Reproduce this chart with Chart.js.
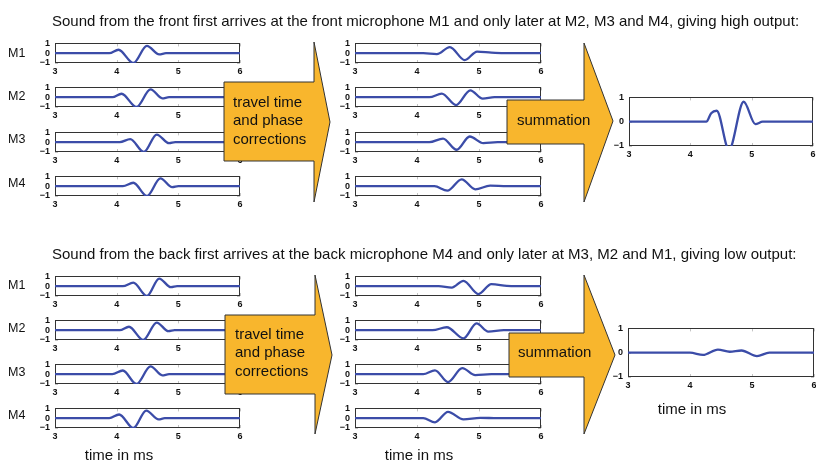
<!DOCTYPE html>
<html>
<head>
<meta charset="utf-8">
<script src="https://cdn.jsdelivr.net/npm/chart.js@4.4.1/dist/chart.umd.min.js"></script>
<style>
html, body { margin: 0; padding: 0; background: #fff; }
#fig { position: relative; width: 816px; height: 462px; overflow: hidden;
       font-family: "Liberation Sans", Arial, Helvetica, sans-serif; color: #111; }
canvas { position: absolute; }
svg { position: absolute; left: 0; top: 0; }
.txt { position: absolute; white-space: nowrap; line-height: 1; }
.title { font-size: 15px; }
.mic { font-size: 12.5px; }
.axlabel { font-size: 15px; transform: translateX(-50%); }
.arrowtxt { font-size: 15px; line-height: 18.5px; }
</style>
</head>
<body>
<div id="fig"></div>
<script>
// ---- data (time in ms, amplitude) ----
const xTicks = [3, 4, 5, 6];
const yTicks = [-1, 0, 1];
const micLabels = ['M1', 'M2', 'M3', 'M4'];

const titleFront = 'Sound from the front first arrives at the front microphone M1 and only later at M2, M3 and M4, giving high output:';
const titleBack = 'Sound from the back first arrives at the back microphone M4 and only later at M3, M2 and M1, giving low output:';

// front: raw microphone signals
const frontInM1 = [[3, 0], [3.88, 0], [4.03, 0.35], [4.27, -1], [4.49, 0.74], [4.69, -0.12], [4.8, 0], [6, 0]];
const frontInM2 = [[3, 0], [3.93, 0], [4.08, 0.35], [4.32, -1], [4.55, 0.8], [4.74, -0.12], [4.85, 0], [6, 0]];
const frontInM3 = [[3, 0], [4.05, 0], [4.22, 0.32], [4.44, -1], [4.65, 0.78], [4.85, -0.1], [4.95, 0], [6, 0]];
const frontInM4 = [[3, 0], [4.1, 0], [4.27, 0.35], [4.49, -1], [4.71, 0.8], [4.9, -0.1], [5.0, 0], [6, 0]];
// front: after travel time and phase corrections
const frontOutM1 = [[3, 0], [4.1, 0], [4.32, -0.1], [4.53, 0.62], [4.77, -0.7], [4.97, 0.17], [5.2, 0.05], [5.4, 0], [6, 0]];
const frontOutM2 = [[3, 0], [4.2, 0], [4.4, 0.36], [4.63, -0.8], [4.86, 0.7], [5.06, -0.15], [5.25, 0], [6, 0]];
const frontOutM3 = [[3, 0], [4.2, 0], [4.42, 0.37], [4.64, -0.77], [4.85, 0.58], [5.07, -0.1], [5.3, 0], [6, 0]];
const frontOutM4 = [[3, 0], [4.28, 0], [4.49, -0.45], [4.72, 0.7], [4.94, -0.32], [5.18, 0.06], [5.45, 0], [6, 0]];
const frontSum = [[3, 0], [4.26, 0], [4.34, 0.35], [4.43, 0.45], [4.63, -1.15], [4.87, 0.82], [5.06, -0.1], [5.18, 0], [6, 0]];

// back: raw microphone signals
const backInM1 = [[3, 0], [4.1, 0], [4.27, 0.36], [4.49, -1], [4.69, 0.78], [4.88, -0.1], [4.98, 0], [6, 0]];
const backInM2 = [[3, 0], [4.05, 0], [4.2, 0.35], [4.43, -1], [4.65, 0.78], [4.84, -0.1], [4.94, 0], [6, 0]];
const backInM3 = [[3, 0], [3.93, 0], [4.1, 0.38], [4.32, -1], [4.55, 0.8], [4.74, -0.12], [4.85, 0], [6, 0]];
const backInM4 = [[3, 0], [3.88, 0], [4.04, 0.38], [4.27, -1], [4.48, 0.78], [4.68, -0.12], [4.78, 0], [6, 0]];
// back: after travel time and phase corrections
const backOutM1 = [[3, 0], [4.35, 0], [4.56, -0.15], [4.75, 0.55], [4.99, -0.8], [5.2, 0.22], [5.45, 0.03], [5.6, 0], [6, 0]];
const backOutM2 = [[3, 0], [4.25, 0], [4.48, 0.3], [4.75, -0.83], [4.96, 0.7], [5.15, -0.14], [5.4, 0], [6, 0]];
const backOutM3 = [[3, 0], [4.1, 0], [4.29, 0.4], [4.5, -0.8], [4.73, 0.62], [4.94, -0.1], [5.2, 0], [6, 0]];
const backOutM4 = [[3, 0], [4.1, 0], [4.29, -0.42], [4.5, 0.65], [4.75, -0.12], [5.02, 0.04], [5.3, 0], [6, 0]];
const backSum = [[3, 0], [4.0, 0], [4.21, -0.09], [4.45, 0.13], [4.64, 0.04], [4.83, 0.09], [5.08, -0.14], [5.28, 0], [6, 0]];

// ---- layout ----
const fig = document.getElementById('fig');
const LINE = '#3b4ca8';
const PAD_L = 32, PAD_T = 6, PAD_R = 8, PAD_B = 16;

// box around plot + small inward ticks, like the matlab axes
const framePlugin = {
    id: 'frame',
    beforeDatasetsDraw(chart) {
        const { ctx, chartArea: a, scales } = chart;
        ctx.save();
        ctx.strokeStyle = '#c4c4c4';
        ctx.lineWidth = 1;
        ctx.beginPath();
        scales.x.ticks.forEach(t => {
            const px = Math.round(scales.x.getPixelForValue(t.value)) + 0.5;
            ctx.moveTo(px, a.top); ctx.lineTo(px, a.top + 3);
            ctx.moveTo(px, a.bottom); ctx.lineTo(px, a.bottom - 3);
        });
        scales.y.ticks.forEach(t => {
            const py = Math.round(scales.y.getPixelForValue(t.value)) + 0.5;
            ctx.moveTo(a.left, py); ctx.lineTo(a.left + 3, py);
            ctx.moveTo(a.right, py); ctx.lineTo(a.right - 3, py);
        });
        ctx.stroke();
        ctx.strokeStyle = '#333';
        ctx.strokeRect(Math.round(a.left) + 0.5, Math.round(a.top) + 0.5,
            Math.round(a.width) - 1, Math.round(a.height) - 1);
        ctx.restore();
    }
};

function makeChart(box, points) {
    const canvas = document.createElement('canvas');
    canvas.width = box.w + PAD_L + PAD_R;
    canvas.height = box.h + PAD_T + PAD_B;
    canvas.style.left = (box.x - PAD_L) + 'px';
    canvas.style.top = (box.y - PAD_T) + 'px';
    fig.appendChild(canvas);

    const tickFont = { family: '"Liberation Sans", Arial, sans-serif', size: 9, weight: 'bold' };
    new Chart(canvas, {
        type: 'line',
        data: {
            datasets: [{
                data: points.map(p => ({ x: p[0], y: p[1] })),
                borderColor: LINE,
                borderWidth: 2.3,
                pointRadius: 0,
                cubicInterpolationMode: 'monotone',
                fill: false
            }]
        },
        options: {
            responsive: false,
            animation: false,
            events: [],
            layout: { padding: { top: PAD_T, right: PAD_R, left: 0, bottom: 0 } },
            plugins: { legend: { display: false }, tooltip: { enabled: false } },
            scales: {
                x: {
                    type: 'linear', min: xTicks[0], max: xTicks[xTicks.length - 1],
                    afterBuildTicks: s => { s.ticks = xTicks.map(v => ({ value: v })); },
                    afterFit: s => { s.height = PAD_B; },
                    grid: { display: false, drawTicks: false },
                    border: { display: false },
                    ticks: { font: tickFont, color: '#111', padding: 3, maxRotation: 0, autoSkip: false }
                },
                y: {
                    type: 'linear', min: yTicks[0], max: yTicks[yTicks.length - 1],
                    afterBuildTicks: s => { s.ticks = yTicks.map(v => ({ value: v })); },
                    afterFit: s => { s.width = PAD_L; },
                    grid: { display: false, drawTicks: false },
                    border: { display: false },
                    ticks: {
                        font: tickFont, color: '#111', padding: 5, autoSkip: false,
                        callback: v => (v < 0 ? '\u2212' + Math.abs(v) : String(v))
                    }
                }
            }
        },
        plugins: [framePlugin]
    });
}

function addText(cls, text, left, top) {
    const d = document.createElement('div');
    d.className = 'txt ' + cls;
    d.style.left = left + 'px';
    d.style.top = top + 'px';
    d.innerHTML = text;
    fig.appendChild(d);
}

// rows of small plots
const topRows = [39, 83, 128, 172];
const botRows = [272, 316, 360, 404];
const topMicY = [47, 90, 133, 177];
const botMicY = [279, 322, 366, 409];

[frontInM1, frontInM2, frontInM3, frontInM4].forEach((s, i) => makeChart({ x: 55, y: topRows[i], w: 185, h: 24 }, s));
[frontOutM1, frontOutM2, frontOutM3, frontOutM4].forEach((s, i) => makeChart({ x: 355, y: topRows[i], w: 186, h: 24 }, s));
makeChart({ x: 629, y: 93, w: 184, h: 53 }, frontSum);

[backInM1, backInM2, backInM3, backInM4].forEach((s, i) => makeChart({ x: 55, y: botRows[i], w: 185, h: 24 }, s));
[backOutM1, backOutM2, backOutM3, backOutM4].forEach((s, i) => makeChart({ x: 355, y: botRows[i], w: 186, h: 24 }, s));
makeChart({ x: 628, y: 324, w: 186, h: 53 }, backSum);

// orange arrows on top of the plots
const svgNS = 'http://www.w3.org/2000/svg';
const svg = document.createElementNS(svgNS, 'svg');
svg.setAttribute('width', 816);
svg.setAttribute('height', 462);
const arrows = [
    '224,82 314,82 314,42 330,122 314,202 314,161 224,161',
    '507,100 584,100 584,43 613,121 584,202 584,144 507,144',
    '225,315 315,315 315,275 332,355 315,434 315,394 225,394',
    '509,333 584,333 584,275 615,355 584,434 584,377 509,377'
];
arrows.forEach(pts => {
    const p = document.createElementNS(svgNS, 'polygon');
    p.setAttribute('points', pts);
    p.setAttribute('fill', '#f8b62d');
    p.setAttribute('stroke', '#333');
    p.setAttribute('stroke-width', '1');
    p.setAttribute('stroke-linejoin', 'miter');
    svg.appendChild(p);
});
fig.appendChild(svg);

// texts
addText('title', titleFront, 52, 13);
addText('title', titleBack, 52, 246);
micLabels.forEach((m, i) => {
    addText('mic', m, 8, topMicY[i]);
    addText('mic', m, 8, botMicY[i]);
});
addText('arrowtxt', 'travel time<br>and phase<br>corrections', 233, 92.5);
addText('arrowtxt', 'travel time<br>and phase<br>corrections', 235, 324.5);
addText('arrowtxt', 'summation', 517, 110.5);
addText('arrowtxt', 'summation', 518, 342.5);
addText('axlabel', 'time in ms', 119, 447);
addText('axlabel', 'time in ms', 419, 447);
addText('axlabel', 'time in ms', 692, 401);
</script>
</body>
</html>
